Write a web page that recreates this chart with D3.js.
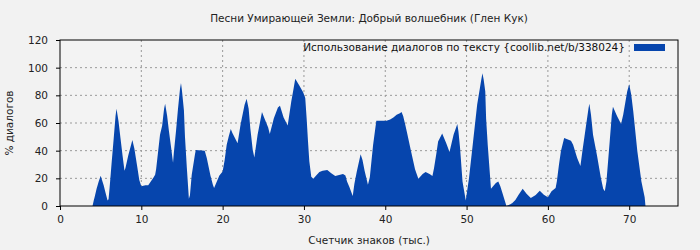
<!DOCTYPE html>
<html>
<head>
<meta charset="utf-8">
<script src="https://cdn.jsdelivr.net/npm/d3@7"></script>
<style>
  body { margin: 0; background: #f2f2f2; }
  text { font-family: "DejaVu Sans", sans-serif; }
</style>
</head>
<body>
<div id="chart"></div>
<script>
// chars (thousands) and % of dialogue
var xs = [0, 4.0, 4.15, 4.27, 4.5, 4.76, 5.0, 5.37, 5.6, 5.85, 5.97, 6.1, 6.34, 6.59, 6.83, 6.95,
  7.2, 7.44, 7.68, 7.93, 8.05, 8.4, 8.9, 9.15, 9.5, 9.75, 10.0, 10.5, 10.85, 11.46, 11.7, 11.82,
  12.07, 12.3, 12.56, 12.8, 12.93, 13.17, 13.4, 13.66, 13.9, 14.0, 14.27, 14.5, 14.76, 14.88, 15.0,
  15.24, 15.37, 15.6, 15.85, 15.98, 16.2, 16.6, 16.7, 17.8, 18.05, 18.5, 18.8, 18.95, 19.6, 20.0,
  20.25, 20.5, 20.74, 21.0, 21.2, 21.84, 22.2, 22.7, 22.95, 23.2, 23.4, 23.7, 23.9, 24.3, 24.6,
  24.84, 25.1, 25.6, 25.8, 26.3, 26.8, 27.05, 27.5, 28.0, 28.44, 28.7, 28.93, 29.43, 29.9, 30.16,
  30.33, 30.5, 30.66, 30.9, 31.15, 31.5, 31.9, 32.3, 32.87, 33.36, 33.85, 34.8, 35.1, 35.3, 35.6,
  36.0, 36.2, 36.5, 36.97, 37.2, 37.46, 37.87, 38.1, 38.5, 38.9, 40.16, 40.6, 41.0, 41.4, 41.8,
  42.0, 42.2, 42.44, 42.7, 43.17, 43.66, 44.07, 44.6, 44.96, 45.5, 45.8, 46.0, 46.26, 46.5, 47.0,
  47.5, 47.9, 48.4, 48.86, 49.0, 49.2, 49.5, 49.9, 50.3, 50.8, 51.3, 51.8, 51.95, 52.1, 52.3,
  52.4, 52.6, 53.0, 53.6, 53.9, 54.15, 54.4, 54.9, 55.6, 56.0, 56.4, 56.9, 57.4, 57.9, 58.5,
  59.0, 59.5, 60.0, 60.45, 60.95, 61.1, 61.36, 61.6, 62.0, 62.84, 63.1, 63.6, 64.0, 64.24, 64.5,
  65.0, 65.1, 65.3, 65.55, 66.05, 66.5, 66.8, 67.0, 67.2, 67.6, 67.86, 68.0, 68.5, 69.0, 69.26,
  69.75, 70.0, 70.25, 70.5, 71.0, 71.5, 71.9, 72.0];
var dialog = [0, 0, 4, 6.7, 12.5, 17.8, 21.9, 15, 9.6, 4, 4.8, 13.2, 30.6, 47.9, 65, 70.3,
  61, 49, 37, 25.5, 27.4, 36.6, 47.7, 41.4, 28.4, 18.8, 14.2, 15, 15, 20.2, 22.6, 26.5,
  39.5, 51.5, 58, 70.3, 73.9, 65.5, 54, 42.4, 31.3, 38.5, 54.4, 69.5, 84.7, 89, 83.3,
  69.3, 50, 27.4, 5.3, 7.7, 22.6, 37.5, 40.4, 40, 34.7, 22, 15.4, 13, 22, 25,
  33.2, 44.3, 50, 55.6, 52.7, 45.3, 58.7, 73.2, 77.5, 70.3, 56.3, 40.7, 35.1, 51.5, 60.7,
  67.9, 64, 56.8, 52, 63.5, 71.2, 72.4, 64, 58.2, 75.6, 84, 92, 87.1, 82.3, 78,
  63.5, 46.7, 32.3, 21.2, 19.7, 22.1, 24.5, 25.5, 26, 23.6, 21.7, 23.1, 22, 17.8, 13.5,
  7.2, 15.9, 25, 37.5, 33.2, 25.5, 15.4, 20.7, 44, 61.6, 61.6, 62.6, 64, 66, 67,
  67.9, 65, 59.2, 52.5, 39.5, 26.5, 19.7, 23.1, 24.5, 23, 21.7, 27.4, 37, 46.7, 52.5,
  45.3, 39, 51.5, 59.2, 53.9, 41.9, 17.8, 3.9, 20.2, 46.7, 73.2, 91, 96, 91.5, 82.8,
  63.5, 44.3, 12.5, 16.6, 17.8, 14.2, 9.6, 0, 1.9, 4.3, 8.2, 12.5, 8.7, 5.8, 8,
  11.1, 8.2, 6.3, 10.6, 13, 17.8, 29.8, 39.5, 49.1, 47.2, 44.3, 34.7, 28.9, 39.5, 50.3,
  70.8, 73.9, 66, 51.5, 36.1, 20.7, 12.5, 10.6, 17.8, 46.7, 66, 71.7, 65, 59.2, 66,
  82.8, 88.1, 80.4, 68.4, 39.5, 17.8, 6.3, 0];
var xTicks = [0, 10, 20, 30, 40, 50, 60, 70];
var yTicks = [0, 20, 40, 60, 80, 100, 120];

var title = 'Песни Умирающей Земли: Добрый волшебник (Глен Кук)',
    legendLabel = 'Использование диалогов по тексту {coollib.net/b/338024}';

var m = [40, 22, 44, 60],
    w = 700 - m[1] - m[3],
    h = 250 - m[0] - m[2],
    fs = 10.5;

var svg = d3.select('#chart').append('svg')
    .attr('width', 700)
    .attr('height', 250);

var vis = svg.append('g')
    .attr('transform', 'translate(' + m[3] + ',' + m[0] + ')');

var x = d3.scaleLinear().domain([0, 76]).range([0, w]);
var y = d3.scaleLinear().domain([0, 120]).range([h, 0]);

vis.append('rect')
    .attr('width', w).attr('height', h)
    .attr('fill', '#f3f3f3');

// grid
vis.selectAll('.gx').data(xTicks.slice(1))
    .enter().append('line')
    .attr('x1', function(d){ return x(d); }).attr('x2', function(d){ return x(d); })
    .attr('y1', 0).attr('y2', h)
    .attr('stroke', '#999').attr('stroke-dasharray', '2,3');
vis.selectAll('.gy').data(yTicks.slice(1, -1))
    .enter().append('line')
    .attr('y1', function(d){ return y(d); }).attr('y2', function(d){ return y(d); })
    .attr('x1', 0).attr('x2', w)
    .attr('stroke', '#999').attr('stroke-dasharray', '2,3');

var pts = xs.map(function(v, i){ return [v, dialog[i]]; });
var area = d3.area()
    .x(function(d){ return x(d[0]); })
    .y0(h)
    .y1(function(d){ return y(d[1]); });

vis.append('path')
    .datum(pts)
    .attr('d', area)
    .attr('fill', '#0645ad');

vis.append('rect')
    .attr('width', w).attr('height', h)
    .attr('fill', 'none').attr('stroke', '#000').attr('stroke-width', 1);

var xAxis = vis.append('g')
    .attr('transform', 'translate(0,' + h + ')')
    .call(d3.axisBottom(x).tickValues(xTicks).tickSize(4).tickPadding(6));
var yAxis = vis.append('g')
    .call(d3.axisLeft(y).tickValues(yTicks).tickSize(4).tickPadding(8));
[xAxis, yAxis].forEach(function(a){
    a.select('.domain').remove();
    a.selectAll('line').attr('stroke', '#000');
    a.selectAll('text').attr('font-size', fs).attr('fill', '#222')
        .attr('font-family', '"DejaVu Sans", sans-serif');
});

svg.append('text')
    .attr('x', m[3] + w / 2).attr('y', 22)
    .attr('text-anchor', 'middle').attr('font-size', fs).attr('fill', '#222')
    .text(title);

svg.append('text')
    .attr('x', m[3] + w / 2).attr('y', 244)
    .attr('text-anchor', 'middle').attr('font-size', fs).attr('fill', '#222')
    .text('Счетчик знаков (тыс.)');

svg.append('text')
    .attr('transform', 'translate(13,' + (m[0] + h / 2) + ') rotate(-90)')
    .attr('text-anchor', 'middle').attr('font-size', fs).attr('fill', '#222')
    .text('% диалогов');

// legend
var lg = vis.append('g');
lg.append('text')
    .attr('x', w - 53).attr('y', 11)
    .attr('text-anchor', 'end').attr('font-size', fs).attr('fill', '#111')
    .text(legendLabel);
lg.append('rect')
    .attr('x', w - 44).attr('y', 4).attr('width', 31).attr('height', 7)
    .attr('fill', '#0645ad');
</script>
</body>
</html>
